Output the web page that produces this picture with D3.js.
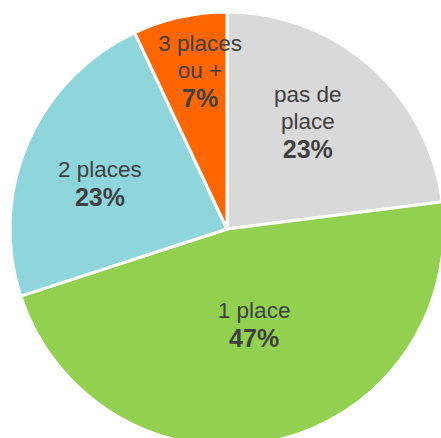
<!DOCTYPE html>
<html>
<head>
<meta charset="utf-8">
<script src="https://cdn.jsdelivr.net/npm/d3@7/dist/d3.min.js"></script>
<style>
  body { margin: 0; background: #fff; }
  svg { display: block; }
  text { font-family: "Liberation Sans", Arial, sans-serif; fill: #404040; }
</style>
</head>
<body>
<script>
// data (clockwise from 12 o'clock)
var categories = ["pas de place", "1 place", "2 places", "3 places ou +"];
var values = [23, 47, 23, 7];
var labelLines = [["pas de", "place"], ["1 place"], ["2 places"], ["3 places", "ou +"]];
var colors = ["#d9d9d9", "#92d050", "#8fd5dc", "#ff6600"];

// layout
var width = 441, height = 438;
var cx = 227, cy = 229, radius = 217;
var labelRadius = [134, 99, 135, 160];
var labelShift = [-4.3, -3.3, -3.7, 2.9]; // degrees
var lineHeight = 27;

var svg = d3.select("body").append("svg")
  .attr("width", width)
  .attr("height", height);

var g = svg.append("g")
  .attr("transform", "translate(" + cx + "," + cy + ")");

var pie = d3.pie().sort(null).value(function(d) { return d; });
var arcs = pie(values);

var arc = d3.arc().innerRadius(0).outerRadius(radius);

// slices
g.selectAll("path.slice")
  .data(arcs)
  .enter().append("path")
  .attr("class", "slice")
  .attr("d", arc)
  .attr("fill", function(d, i) { return colors[i]; })
  .attr("stroke", "#fff")
  .attr("stroke-width", 3)
  .attr("stroke-linejoin", "round");

// labels
arcs.forEach(function(d, i) {
  var a = (d.startAngle + d.endAngle) / 2 + labelShift[i] * Math.PI / 180;
  var x = labelRadius[i] * Math.sin(a);
  var y = -labelRadius[i] * Math.cos(a);
  var lines = labelLines[i].concat([values[i] + "%"]);
  var n = lines.length;
  var t = g.append("text")
    .attr("text-anchor", "middle");
  lines.forEach(function(line, j) {
    var last = j === n - 1;
    t.append("tspan")
      .attr("x", x)
      .attr("y", y + (j - (n - 1) / 2) * lineHeight + 7 + (last ? 2 : 0))
      .style("font-size", last ? "25px" : "22.5px")
      .style("font-weight", last ? "bold" : "normal")
      .text(line);
  });
});
</script>
</body>
</html>
